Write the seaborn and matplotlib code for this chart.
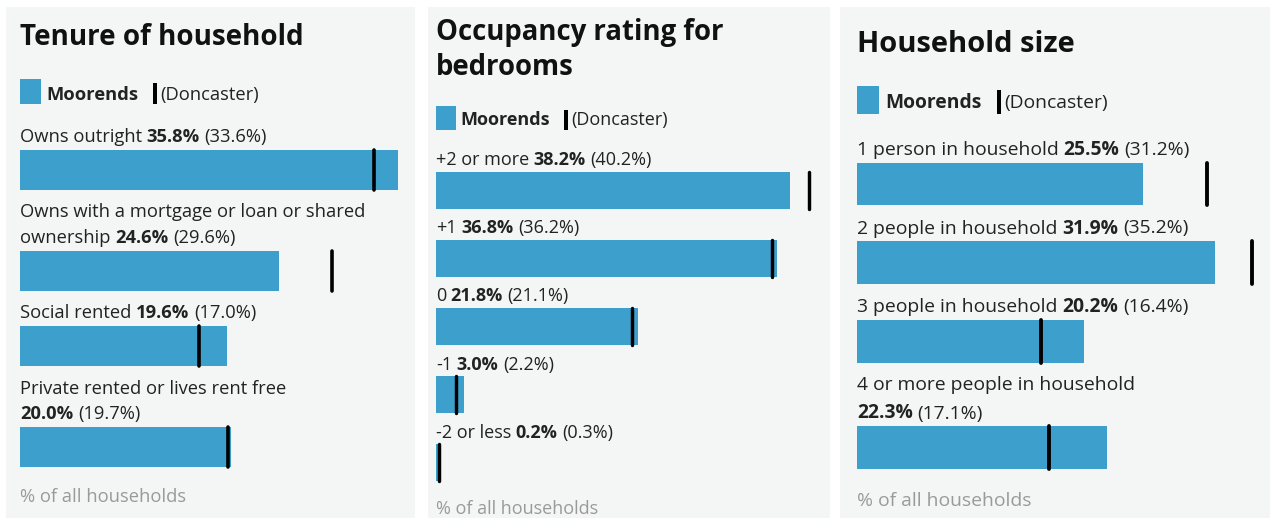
import matplotlib
matplotlib.use('Agg')
import matplotlib.pyplot as plt
import seaborn as sns
from matplotlib.patches import Rectangle

W, H = 1273, 518

tenure_cats = ['Owns outright', 'Owns with a mortgage or loan or shared\nownership',
               'Social rented', 'Private rented or lives rent free\n']
tenure_moorends = [35.8, 24.6, 19.6, 20.0]
tenure_doncaster = [33.6, 29.6, 17.0, 19.7]

occupancy_cats = ['+2 or more', '+1', '0', '-1', '-2 or less']
occupancy_moorends = [38.2, 36.8, 21.8, 3.0, 0.2]
occupancy_doncaster = [40.2, 36.2, 21.1, 2.2, 0.3]

size_cats = ['1 person in household', '2 people in household', '3 people in household',
             '4 or more people in household\n']
size_moorends = [25.5, 31.9, 20.2, 22.3]
size_doncaster = [31.2, 35.2, 16.4, 17.1]

titles = [['Tenure of household'], ['Occupancy rating for', 'bedrooms'], ['Household size']]
area_name = 'Moorends'
compare_name = '(Doncaster)'
footer = '% of all households'

BLUE = '#3d9fcb'
PANEL = '#f4f5f5'
TEXT = '#222222'
GREY = '#9a9a9a'

# pixel layout of each widget (they were captured at slightly different scales)
layout = [
    dict(bg=(6, 415), left=20, right=397.5, title_base=[45], leg=(79, 104, 100), first=141.7,
         bar_h=40, after=27.5, to_bar=8, line_h=25.5, foot=35, fs=13.2, ts=20, k=1.0),
    dict(bg=(428, 830), left=436, right=809, title_base=[40, 75], leg=(106, 130, 125), first=165,
         bar_h=37, after=24.5, to_bar=6.7, line_h=24, foot=33, fs=13.0, ts=19.8, k=0.95),
    dict(bg=(840, 1270), left=857, right=1252, title_base=[52], leg=(86, 114, 108), first=155,
         bar_h=42.7, after=28, to_bar=7.8, line_h=28, foot=36.7, fs=13.9, ts=21, k=1.07),
]
data = [(tenure_cats, tenure_moorends, tenure_doncaster),
        (occupancy_cats, occupancy_moorends, occupancy_doncaster),
        (size_cats, size_moorends, size_doncaster)]

sns.set_theme(style='white')
plt.rcParams['font.family'] = ['Open Sans', 'DejaVu Sans']

fig = plt.figure(figsize=(W / 100, H / 100), dpi=100)
fig.patch.set_facecolor('white')
renderer = fig.canvas.get_renderer()


def put(x, y, s, **kw):
    kw.setdefault('color', TEXT)
    t = fig.text(x / W, 1 - y / H, s, va='baseline', ha='left', **kw)
    return t.get_window_extent(renderer).x1


def rect(x0, y0, x1, y1, color, z=-1):
    fig.patches.append(Rectangle((x0 / W, 1 - y1 / H), (x1 - x0) / W, (y1 - y0) / H,
                                 transform=fig.transFigure, color=color, lw=0, zorder=z))


for i, (lay, (cats, moor, donc)) in enumerate(zip(layout, data)):
    rect(lay['bg'][0], 7, lay['bg'][1], H, PANEL, z=-2)
    left, right, fs, k = lay['left'], lay['right'], lay['fs'], lay['k']
    space = 0.25 * fs / 0.72

    for line, yb in zip(titles[i], lay['title_base']):
        put(left, yb, line, fontsize=lay['ts'], weight='bold', color='#111111')

    # legend
    ly0, ly1, lyb = lay['leg']
    rect(left, ly0, left + 21 * k, ly1, BLUE)
    x = put(left + 26 * k, lyb, area_name, fontsize=fs, weight='bold')
    x += 15 * k
    rect(x, ly0 + 4 * k, x + 3.5 * k, ly1, 'black')
    put(x + 7 * k, lyb, compare_name, fontsize=fs)

    xmax = max(moor + donc)
    y = lay['first']
    for cat, m, d in zip(cats, moor, donc):
        lines = cat.split('\n')
        for line in lines[:-1]:
            put(left, y, line, fontsize=fs)
            y += lay['line_h']
        x = left
        if lines[-1]:
            x = put(left, y, lines[-1], fontsize=fs) + space
        x = put(x, y, f'{m:.1f}%', fontsize=fs, weight='bold') + space
        put(x, y, f'({d:.1f}%)', fontsize=fs)

        top = y + lay['to_bar']
        bh = lay['bar_h']
        ax = fig.add_axes([left / W, 1 - (top + bh) / H, (right - left) / W, bh / H])
        sns.barplot(x=[m], y=[cat], orient='h', color=BLUE, saturation=1, width=1,
                    linewidth=0, ax=ax)
        ax.axvline(d, color='black', lw=2.6 * k, clip_on=False)
        ax.set_xlim(0, xmax)
        ax.set_ylim(0.5, -0.5)
        ax.axis('off')
        y = top + bh + lay['after']

    put(left, y - lay['after'] + lay['foot'], footer, fontsize=fs, color=GREY)

fig.savefig('out.png', dpi=100, facecolor='white')
